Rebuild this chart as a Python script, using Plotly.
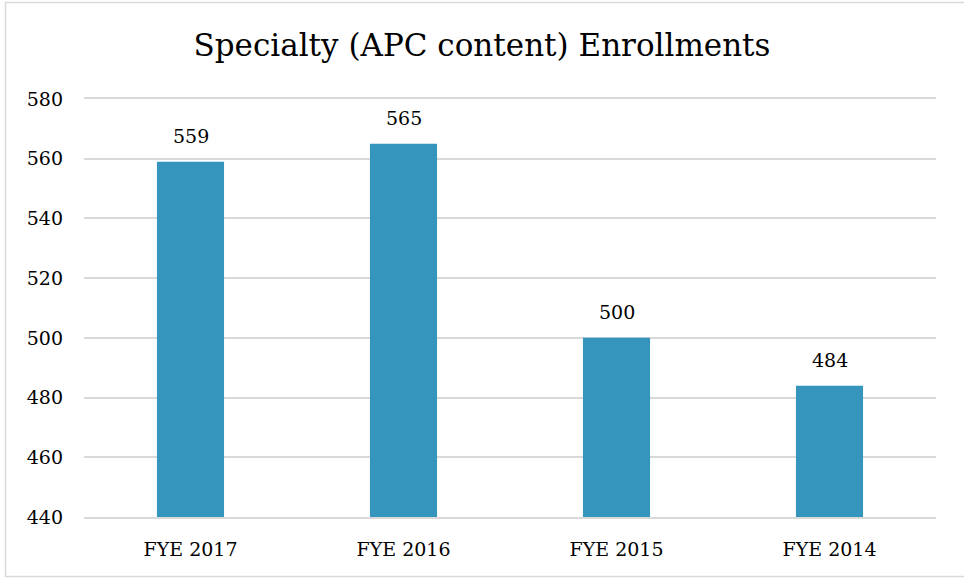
import plotly.graph_objects as go

categories = ["FYE 2017", "FYE 2016", "FYE 2015", "FYE 2014"]
enrollments = [559, 565, 500, 484]
y_ticks = [440, 460, 480, 500, 520, 540, 560, 580]

FONT = "DejaVu Serif"
GRID = "#d9d9d9"

fig = go.Figure(go.Bar(
    x=categories, y=enrollments,
    marker=dict(color="#3595BC", line=dict(width=0)),
    cliponaxis=False,
))

for c, v in zip(categories, enrollments):
    fig.add_annotation(x=c, y=v, text=str(v), showarrow=False,
                       yanchor="bottom", yshift=13,
                       font=dict(family=FONT, size=19, color="#000000"))

fig.update_layout(
    width=964, height=578,
    margin=dict(l=84, r=28, t=99, b=61, autoexpand=False),
    paper_bgcolor="white", plot_bgcolor="white",
    bargap=0.685,
    title=dict(text="Specialty (APC content) Enrollments", x=0.5, xanchor="center",
               y=1 - 45/578, yanchor="middle",
               font=dict(family=FONT, size=31, color="#000000")),
    xaxis=dict(showgrid=False, showline=True, linecolor=GRID, linewidth=1.5, mirror=True,
               ticks="", automargin=False, ticklabelstandoff=14,
               tickfont=dict(family=FONT, size=19, color="#000000")),
    yaxis=dict(range=[440, 580], tickvals=y_ticks, showgrid=True, gridcolor=GRID,
               gridwidth=1.5, zeroline=False, showline=False, ticks="", automargin=False,
               ticklabelstandoff=20,
               tickfont=dict(family=FONT, size=19, color="#000000")),
    showlegend=False,
    shapes=[dict(type="rect", xref="paper", yref="paper",
                 x0=(5.5 - 84) / 852, x1=(985 - 84) / 852,
                 y0=(517 - 576.5) / 418, y1=(517 - 2.5) / 418,
                 line=dict(color=GRID, width=1.5), fillcolor="rgba(0,0,0,0)", layer="below")],
)

fig.write_html("out.html", config={"displayModeBar": False},
               post_script="document.body.style.margin='0';document.body.style.overflow='hidden';")
